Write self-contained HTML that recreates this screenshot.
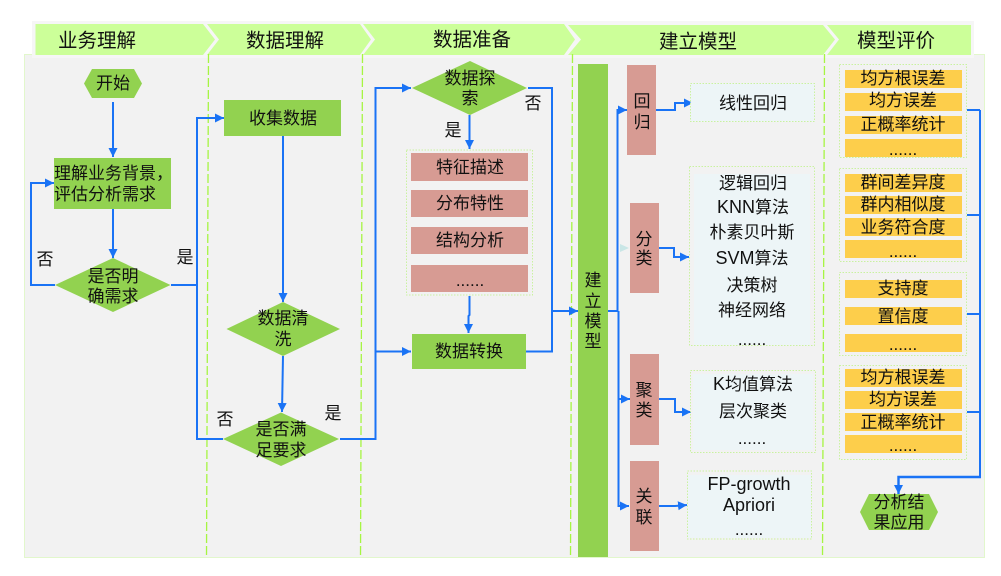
<!DOCTYPE html>
<html><head><meta charset="utf-8">
<style>
html,body{margin:0;padding:0;background:#fff;width:1001px;height:576px;overflow:hidden}
svg{display:block}
text{font-family:"Liberation Sans","Noto Sans CJK SC",sans-serif;font-size:17px;fill:#111;text-anchor:middle}
text.h{font-size:19.5px}
tspan.t,text.t{font-size:18px}
.l{fill:none;stroke:#1a73f5;stroke-width:2}
.d{fill:none;stroke:#c9f2a0;stroke-width:1;stroke-dasharray:1.5 1.5}
.v{fill:none;stroke:#a6f542;stroke-width:1.3;stroke-dasharray:9 3}
.g{fill:#92d250}
.r{fill:#d79b93}
.y{fill:#fdce4b}
.b{fill:#edf5f7}
</style></head><body>
<svg width="1001" height="576" viewBox="0 0 1001 576" xmlns="http://www.w3.org/2000/svg">
<defs>
<marker id="a" markerUnits="userSpaceOnUse" markerWidth="12" markerHeight="12" refX="9" refY="5" orient="auto"><path d="M0 0.500L9 5L0 9.500Z" fill="#1a73f5"/></marker>
</defs>
<!-- backgrounds -->
<rect x="24.5" y="54.5" width="960" height="503" fill="#f2f2f2" stroke="#e2f7cc" stroke-width="1"/>
<rect x="32" y="21" width="942" height="37" fill="#f6f6f6"/>
<!-- header chevrons -->
<g fill="#ccff99">
<path d="M35.500 24H203L215 39.500L203 55H35.500Z"/>
<path d="M207 24H360L371 39.500L360 55H207L219 39.500Z"/>
<path d="M363 24H564L575 39.500L564 55H363L375 39.500Z"/>
<path d="M568 25H823L835 39.500L823 55H568L581 39.500Z"/>
<path d="M827 25H971V55H827L839 39.500Z"/>
</g>
<text class="h" x="97" y="47">业务理解</text>
<text class="h" x="285" y="47">数据理解</text>
<text class="h" x="472" y="46">数据准备</text>
<text class="h" x="698" y="48">建立模型</text>
<text class="h" x="896" y="47">模型评价</text>
<!-- swimlane dividers -->
<path class="v" d="M208.500 54L206.500 558"/>
<path class="v" d="M362.500 54L360.500 558"/>
<path class="v" d="M572.500 54L570.500 558"/>
<path class="v" d="M824.500 54L822.500 558"/>
<!-- column 1 -->
<polygon class="g" points="92,69 134,69 142,83.500 134,98 92,98 84,83.500"/>
<text x="113" y="89">开始</text>
<rect class="g" x="54" y="158" width="117" height="51"/>
<text x="54" y="179" style="text-anchor:start">理解业务背景，</text>
<text x="54" y="200" style="text-anchor:start">评估分析需求</text>
<polygon class="g" points="113,258 170.500,285 113,312 55,285"/>
<text x="113" y="282">是否明</text>
<text x="113" y="302">确需求</text>
<path class="l" d="M113 102V157" marker-end="url(#a)"/>
<path class="l" d="M113 209V258" marker-end="url(#a)"/>
<path class="l" d="M55 285H31V183H54" marker-end="url(#a)"/>
<path class="l" d="M171 285H197V118H224" marker-end="url(#a)"/>
<path class="l" d="M197 285V439H223"/>
<text x="45" y="265">否</text>
<text x="185" y="263">是</text>
<!-- column 2 -->
<rect class="g" x="224" y="100" width="117" height="36"/>
<text x="283" y="124">收集数据</text>
<polygon class="g" points="283,302 340,329 283,356 226.500,329"/>
<text x="283" y="324">数据清</text>
<text x="283" y="345">洗</text>
<polygon class="g" points="281,412.500 339,439 281,466 223,439"/>
<text x="281" y="435">是否满</text>
<text x="281" y="456">足要求</text>
<path class="l" d="M283 136V302" marker-end="url(#a)"/>
<path class="l" d="M283 356L282 412" marker-end="url(#a)"/>
<text x="225" y="425">否</text>
<text x="333" y="419">是</text>
<!-- column 3 -->
<path class="l" d="M340 439H375.500V88H411" marker-end="url(#a)"/>
<path class="l" d="M375.500 351.500H411" marker-end="url(#a)"/>
<polygon class="g" points="470,61 527,88 470,115 412,88"/>
<text x="470" y="84">数据探</text>
<text x="470" y="104">索</text>
<rect class="d" x="406.500" y="150" width="126" height="145"/>
<rect class="r" x="411" y="153" width="117" height="28"/>
<rect class="r" x="411" y="190" width="117" height="27"/>
<rect class="r" x="411" y="227" width="117" height="27"/>
<rect class="r" x="411" y="265" width="117" height="27"/>
<text x="470" y="173">特征描述</text>
<text x="470" y="209">分布特性</text>
<text x="470" y="246">结构分析</text>
<text x="470" y="286">......</text>
<rect class="g" x="412" y="334" width="114" height="35"/>
<text x="469" y="357">数据转换</text>
<path class="l" d="M469.500 115V149" marker-end="url(#a)"/>
<path class="l" d="M469.500 296V315L468.500 316V333" marker-end="url(#a)"/>
<path class="l" d="M528 88H552V351.500H526"/>
<path class="l" d="M552 311H578" marker-end="url(#a)"/>
<text x="533" y="109">否</text>
<text x="453" y="136">是</text>
<!-- column 4 -->
<rect class="g" x="578" y="64" width="30" height="493"/>
<text x="593" y="286">建</text>
<text x="593" y="307">立</text>
<text x="593" y="327">模</text>
<text x="593" y="347">型</text>
<path class="l" d="M608 311H618"/>
<path class="l" d="M617.500 311V110H627" marker-end="url(#a)"/>
<path class="l" d="M618.500 311V399H630" marker-end="url(#a)"/>
<path class="l" d="M618.500 399V506H629" marker-end="url(#a)"/>
<path d="M620 244L629 248L620 252Z" fill="#c9e6e6"/>
<rect class="r" x="627" y="65" width="29" height="90"/>
<rect class="r" x="630" y="203" width="29" height="90"/>
<rect class="r" x="630" y="354" width="29" height="91"/>
<rect class="r" x="630" y="461" width="29" height="90"/>
<text x="642" y="107">回</text><text x="642" y="128">归</text>
<text x="644" y="245">分</text><text x="644" y="264">类</text>
<text x="644" y="396">聚</text><text x="644" y="416">类</text>
<text x="644" y="502">关</text><text x="644" y="523">联</text>
<path class="l" d="M656 110H675V103H693" marker-end="url(#a)"/>
<path class="l" d="M659 248H674V257H689" marker-end="url(#a)"/>
<path class="l" d="M659 399H675V412H691" marker-end="url(#a)"/>
<path class="l" d="M659 506H675L687 505" marker-end="url(#a)"/>
<rect class="b" x="690.500" y="83.500" width="124" height="38"/>
<rect class="d" x="690.500" y="83.500" width="124" height="38"/>
<rect class="b" x="694" y="174" width="116" height="171"/>
<rect class="d" x="689.500" y="166.500" width="125" height="179"/>
<rect class="b" x="693" y="374" width="120" height="76"/>
<rect class="d" x="690.500" y="370.500" width="125" height="82"/>
<rect class="b" x="688" y="475" width="123" height="63"/>
<rect class="d" x="687.500" y="471" width="124" height="68"/>
<text x="753" y="109">线性回归</text>
<text x="753" y="189">逻辑回归</text>
<text x="753" y="213"><tspan class="t">KNN</tspan>算法</text>
<text x="752" y="238">朴素贝叶斯</text>
<text x="752" y="264"><tspan class="t">SVM</tspan>算法</text>
<text x="752" y="291">决策树</text>
<text x="752" y="316">神经网络</text>
<text x="752" y="345">......</text>
<text x="753" y="390"><tspan class="t">K</tspan>均值算法</text>
<text x="753" y="417">层次聚类</text>
<text x="752" y="444">......</text>
<text class="t" x="749" y="490">FP-growth</text>
<text class="t" x="749" y="511">Apriori</text>
<text x="749" y="535">......</text>
<!-- column 5 -->
<rect class="d" x="839.500" y="64.500" width="127" height="93"/>
<rect class="d" x="839.500" y="168.500" width="127" height="93"/>
<rect class="d" x="839.500" y="272.500" width="127" height="83"/>
<rect class="d" x="839.500" y="365.500" width="127" height="94"/>
<g class="y">
<rect x="845" y="70" width="117" height="18"/><rect x="845" y="93" width="117" height="18"/><rect x="845" y="116" width="117" height="18"/><rect x="845" y="139" width="117" height="18"/>
<rect x="845" y="174" width="117" height="18"/><rect x="845" y="196" width="117" height="18"/><rect x="845" y="218" width="117" height="18"/><rect x="845" y="240" width="117" height="18"/>
<rect x="845" y="280" width="117" height="18"/><rect x="845" y="307" width="117" height="18"/><rect x="845" y="334" width="117" height="18"/>
<rect x="845" y="369" width="117" height="18"/><rect x="845" y="391" width="117" height="18"/><rect x="845" y="413" width="117" height="18"/><rect x="845" y="435" width="117" height="18"/>
</g>
<text x="903" y="84">均方根误差</text>
<text x="903" y="106">均方误差</text>
<text x="903" y="130">正概率统计</text>
<text x="903" y="155">......</text>
<text x="903" y="188">群间差异度</text>
<text x="903" y="210">群内相似度</text>
<text x="903" y="233">业务符合度</text>
<text x="903" y="257">......</text>
<text x="903" y="294">支持度</text>
<text x="903" y="322">置信度</text>
<text x="903" y="350">......</text>
<text x="903" y="383">均方根误差</text>
<text x="903" y="405">均方误差</text>
<text x="903" y="428">正概率统计</text>
<text x="903" y="451">......</text>
<path class="l" d="M967 110H980M967 215H980M967 314H980M967 412H980"/>
<path class="l" d="M980 110V477"/>
<path class="l" d="M981 477H898.500V494" style="stroke-width:2.400" marker-end="url(#a)"/>
<polygon class="g" points="869,494 929,494 938,512 929,530 869,530 860,512"/>
<text x="899" y="508">分析结</text>
<text x="899" y="528">果应用</text>
</svg>
</body></html>
